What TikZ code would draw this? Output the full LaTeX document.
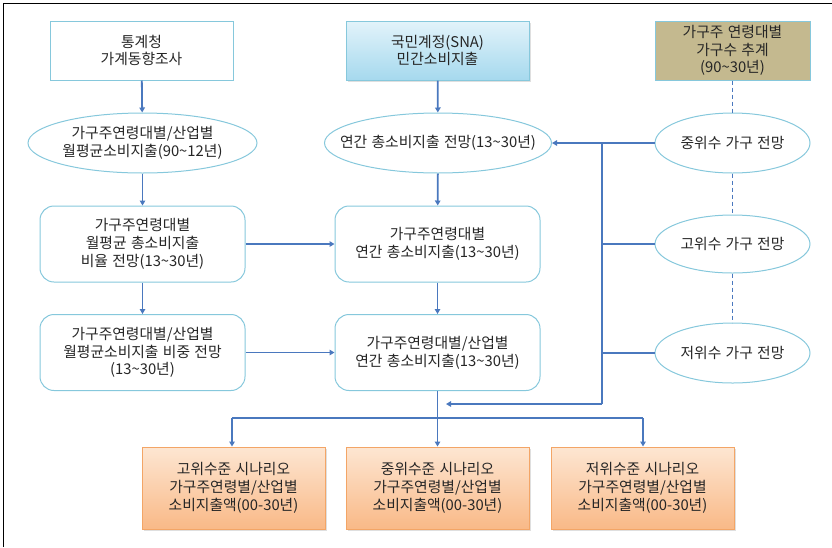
\documentclass[tikz,border=0pt]{standalone}
\usepackage{fontspec}
\setmainfont[WordSpace=1.3]{Noto Sans CJK KR}
\usetikzlibrary{shapes.geometric,arrows.meta,shadows}
\definecolor{lineblue}{HTML}{4A78BE}
\definecolor{tealb}{HTML}{86C8DC}
\definecolor{txt}{HTML}{262626}
\definecolor{brownf}{HTML}{C4B98F}
\definecolor{orgtop}{HTML}{FDE6D2}
\definecolor{orgbot}{HTML}{F9B987}
\definecolor{orgdraw}{HTML}{F3A566}
\definecolor{bluetop}{HTML}{E2F3FA}
\definecolor{bluebot}{HTML}{A6D9EE}
\tikzset{
  base/.style={font=\fontsize{14.8}{17.8}\selectfont, text=txt, align=center, line width=1pt},
  plainbox/.style={base, draw=tealb, fill=white, minimum width=183pt, minimum height=59pt},
  snabox/.style={base, draw=tealb, top color=bluetop, bottom color=bluebot, minimum width=183pt, minimum height=59pt, drop shadow={opacity=0.25, shadow xshift=1.5pt, shadow yshift=-1.5pt}},
  brownbox/.style={base, draw=tealb, fill=brownf, minimum width=155pt, minimum height=59pt, inner sep=0pt},
  oval/.style={base, ellipse, draw=tealb, fill=white, inner xsep=-40pt, inner ysep=-10pt},
  rbox/.style={base, draw=tealb, fill=white, rounded corners=14pt, minimum width=205pt, minimum height=76pt},
  obox/.style={base, draw=orgdraw, top color=orgtop, bottom color=orgbot, minimum width=183pt, minimum height=82pt, drop shadow={opacity=0.25, shadow xshift=1.5pt, shadow yshift=-1.5pt}},
  conn/.style={draw=lineblue, line width=1.8pt, -{Triangle[length=5pt,width=5.5pt]}},
  link/.style={draw=lineblue, line width=1.8pt},
  dashlink/.style={draw=lineblue, line width=1.5pt, dash pattern=on 4pt off 3pt},
}
\begin{document}
\begin{tikzpicture}[x=1pt,y=-1pt]
\useasboundingbox (0,0) rectangle (832,547);
\draw[line width=1.2pt, black] (3.5,547) -- (3.5,3.5) -- (832,3.5);

\node[plainbox] (tong) at (141.5,50.5) {통계청\\가계동향조사};
\node[snabox] (sna) at (437.5,50.5) {국민계정(SNA)\\민간소비지출};
\node[brownbox] (hh) at (732.5,50.5) {가구주 연령대별\\가구수 추계\\(90\textasciitilde 30년)};

\node[oval, minimum width=229pt, minimum height=60pt] (e1) at (142.5,143) {가구주연령대별/산업별\\월평균소비지출(90\textasciitilde 12년)};
\node[oval, minimum width=227pt, minimum height=60pt] (e2) at (438,143) {연간 총소비지출 전망(13\textasciitilde 30년)};
\node[oval, minimum width=155pt, minimum height=60pt] (mid) at (732.5,143) {중위수 가구 전망};

\node[rbox] (r1) at (142.5,244) {가구주연령대별\\월평균 총소비지출\\비율 전망(13\textasciitilde 30년)};
\node[rbox] (r2) at (437.5,244) {가구주연령대별\\연간 총소비지출(13\textasciitilde 30년)};
\node[oval, minimum width=155pt, minimum height=58pt] (hi) at (732.5,244) {고위수 가구 전망};

\node[rbox] (r3) at (142.5,352.5) {가구주연령대별/산업별\\월평균소비지출 비중 전망\\(13\textasciitilde 30년)};
\node[rbox] (r4) at (437.5,352.5) {가구주연령대별/산업별\\연간 총소비지출(13\textasciitilde 30년)};
\node[oval, minimum width=155pt, minimum height=60pt] (lo) at (732.5,353) {저위수 가구 전망};

\node[obox] (o1) at (233.5,488) {고위수준 시나리오\\가구주연령별/산업별\\소비지출액(00-30년)};
\node[obox] (o2) at (437.5,488) {중위수준 시나리오\\가구주연령별/산업별\\소비지출액(00-30년)};
\node[obox] (o3) at (642.5,488) {저위수준 시나리오\\가구주연령별/산업별\\소비지출액(00-30년)};

\coordinate (bt) at (602,143);
\coordinate (bb) at (602,404);
\coordinate (bh) at (602,244);
\coordinate (bl) at (602,353);
\coordinate (bend) at (446,404);
\coordinate (hl) at (232,418);
\coordinate (hr) at (643,418);

\draw[conn] (tong) -- (e1);
\draw[conn] (e1) -- (r1);
\draw[conn] (r1) -- (r3);
\draw[conn] (r1) -- (r2);
\draw[conn] (r3.east) -- (r4.west);
\draw[conn] (sna) -- (e2);
\draw[conn] (e2) -- (r2);
\draw[conn] (r2) -- (r4);

\draw[dashlink] (hh) -- (mid);
\draw[dashlink] (mid) -- (hi);
\draw[dashlink] (hi) -- (lo);

\draw[conn] (mid.west) -- (e2.east);
\draw[link] (hi.west) -- (bh);
\draw[link] (lo.west) -- (bl);
\draw[link] (bt) -- (bb);
\draw[conn] (bb) -- (bend);

\draw[conn] (r4) -- (o2);
\draw[link] (hl) -- (hr);
\draw[conn] (hl) -- (o1.north -| hl);
\draw[conn] (hr) -- (o3.north -| hr);
\end{tikzpicture}
\end{document}
